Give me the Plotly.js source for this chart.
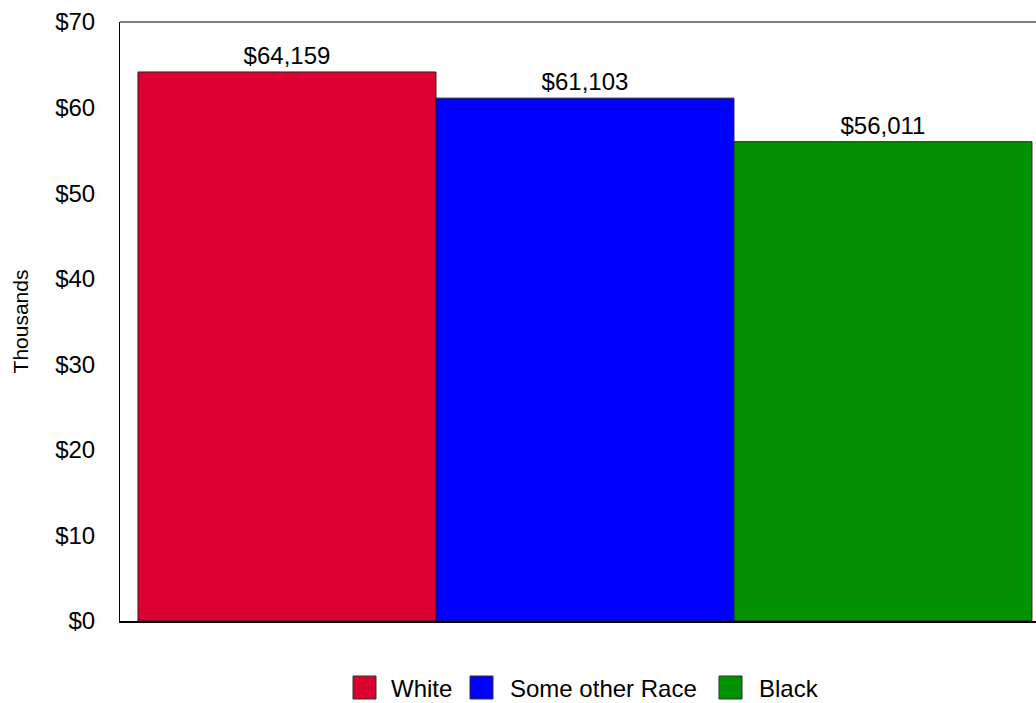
<!DOCTYPE html>
<html>
<head>
<meta charset="utf-8">
<script src="https://cdn.plot.ly/plotly-3.0.1.min.js"></script>
<style>html,body{margin:0;padding:0;background:#fff;}#chart{width:1036px;height:703px;}</style>
</head>
<body>
<div id="chart"></div>
<script>
const categories = ["White", "Some other Race", "Black"];
const values = [64.159, 61.103, 56.011];
const labels = ["$64,159", "$61,103", "$56,011"];
const colors = ["#DC0030", "#0000FF", "#009000"];
const yTicks = [0, 10, 20, 30, 40, 50, 60, 70];
const yTickText = ["$0", "$10", "$20", "$30", "$40", "$50", "$60", "$70"];

const FONT = "Liberation Sans, Arial, sans-serif";
const W = 1036, H = 703, ML = 120, MT = 22, MB = 82, MR = 0;
const PW = W - ML - MR, PH = H - MT - MB;
const px2x = p => (p - ML) / PW;
const py2y = p => (H - MB - p) / PH;

const traces = categories.map((c, i) => ({
  type: "bar",
  name: c,
  x: ["All"],
  y: [values[i]],
  text: [labels[i]],
  textposition: "outside",
  cliponaxis: false,
  textfont: {size: 24, color: "#000", family: FONT},
  marker: {color: colors[i], line: {color: "#222", width: 1}},
  showlegend: false,
  hoverinfo: "skip"
}));

// custom legend (swatch left edges and text left edges in pixels)
const swatchLeft = [353, 470, 719];
const textLeft = [389, 508, 757];
const shapes = [];
const annotations = [];
categories.forEach((c, i) => {
  shapes.push({type: "rect", xref: "paper", yref: "paper",
    x0: px2x(swatchLeft[i]), x1: px2x(swatchLeft[i] + 23),
    y0: py2y(699), y1: py2y(676),
    fillcolor: colors[i], line: {color: "#333", width: 1}});
  annotations.push({xref: "paper", yref: "paper", x: px2x(textLeft[i]), y: py2y(688),
    xanchor: "left", yanchor: "middle", showarrow: false, text: c,
    font: {size: 24, family: FONT, color: "#000"}});
});
// top frame line
shapes.push({type: "line", xref: "paper", yref: "paper", x0: 0, x1: 1, y0: 1, y1: 1,
  line: {color: "#000", width: 1}});

const layout = {
  width: W, height: H,
  margin: {l: ML, r: MR, t: MT, b: MB},
  paper_bgcolor: "#fff", plot_bgcolor: "#fff",
  font: {family: FONT, size: 24, color: "#000"},
  barmode: "group",
  bargap: 0.0387,
  bargroupgap: 0,
  showlegend: false,
  shapes: shapes,
  annotations: annotations,
  xaxis: {type: "category", range: [-0.5, 0.485], showticklabels: false, ticks: "",
          showline: true, linecolor: "#000", linewidth: 2, mirror: false, showgrid: false, zeroline: false, fixedrange: true},
  yaxis: {range: [0, 70], tickvals: yTicks, ticktext: yTickText, ticks: "",
          tickfont: {size: 24},
          showline: true, linecolor: "#000", linewidth: 1, mirror: false, showgrid: false, zeroline: false,
          ticklabelstandoff: 19,
          title: {text: "Thousands", font: {size: 21}, standoff: 20}}
};

Plotly.newPlot("chart", traces, layout, {displayModeBar: false, staticPlot: true});
</script>
</body>
</html>
